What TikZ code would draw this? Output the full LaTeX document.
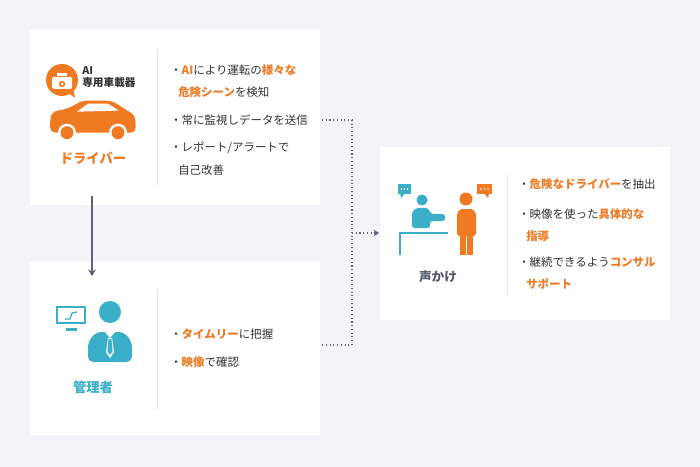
\documentclass[tikz,border=0pt]{standalone}
\usepackage{fontspec}
\newfontfamily\jp{Noto Sans CJK JP}
\usetikzlibrary{arrows.meta}
\definecolor{bg}{HTML}{F3F4F7}
\definecolor{org}{HTML}{F07A22}
\definecolor{teal}{HTML}{3BAFC8}
\definecolor{txt}{HTML}{333333}
\definecolor{gtxt}{HTML}{555A6E}
\definecolor{conn}{HTML}{5F6378}
\definecolor{divc}{HTML}{E4E5EA}
\tikzset{
 card/.style={fill=white,draw=none},
 divl/.style={draw=divc,line width=0.6pt},
 bul/.style={anchor=west,font=\jp\fontsize{8.6}{11}\selectfont,text=txt,inner sep=0},
 ttl/.style={font=\jp\bfseries\fontsize{10}{12}\selectfont},
 dotc/.style={draw=conn,line width=0.8pt,dotted},
}
\newcommand{\og}[1]{\textcolor{org}{\bfseries #1}}
\begin{document}
\begin{tikzpicture}[x=0.75pt,y=-0.75pt]
\fill[bg] (0,0) rectangle (700,467);
\useasboundingbox (0,0) rectangle (700,467);
% cards
\fill[card] (30,30) rectangle (320,205);
\fill[card] (30,262) rectangle (320,435);
\fill[card] (380,147) rectangle (670,320);
\draw[divl] (157,50) -- (157,185);
\draw[divl] (157,290) -- (157,410);
\draw[divl] (507,175) -- (507,295);
% driver icon
\fill[org] (62,80) circle (16);
\fill[org] (67,92) -- (75,98) -- (73,88) -- cycle;
\fill[white,rounded corners=1pt] (52,77) rectangle (72,89);
\fill[white] (57,73) rectangle (67,76);
\fill[org] (62,84) circle (3.2);
\fill[white] (62,84) circle (1.5);
\node[anchor=west,font=\jp\bfseries\fontsize{8}{9}\selectfont,text=txt,align=left,inner sep=0] at (82,77) {AI\\専用車載器};
\begin{scope}[yshift=-5pt]
\fill[org,rounded corners=4pt] (50,114) -- (52,105) -- (68,102) -- (82,94) -- (112,94) -- (127,104) -- (135,108) -- (136,126) -- (50,126) -- cycle;
\fill[white] (88,97) -- (108,97) -- (119,104) -- (77,105) -- cycle;
\fill[white] (67,126) circle (9); \fill[org] (67,126) circle (6.5);
\fill[white] (118,126) circle (9); \fill[org] (118,126) circle (6.5);
\end{scope}
\node[ttl,text=org] (drv) at (93,158) {ドライバー};
\node[bul] at (170,70) {・\og{AI}により運転の\og{様々な}};
\node[bul] at (178,92) {\og{危険シーン}を検知};
\node[bul] at (170,120) {・常に監視しデータを送信};
\node[bul] at (170,148) {・レポート/アラートで};
\node[bul] at (178,170) {自己改善};
% manager icon
\draw[teal,line width=1.6pt] (57,307) rectangle (85,323);
\draw[teal,line width=1pt] (65,319) -- (70,319) -- (72,313) -- (77,312);
\fill[teal] (66,328) rectangle (77,331);
\fill[teal] (110,312) circle (11);
\fill[teal,rounded corners=4pt] (88,362) -- (88,342) -- (96,332) -- (124,332) -- (132,342) -- (132,362) -- cycle;
\fill[white] (105,332) -- (110,338) -- (115,332) -- cycle;
\fill[white] (108,338) -- (106,352) -- (110,358) -- (114,352) -- (112,338) -- cycle;
\fill[teal] (108.6,339) -- (107.4,351) -- (110,355) -- (112.6,351) -- (111.4,339) -- cycle;
\node[ttl,text=teal] (mgr) at (93,387) {管理者};
\node[bul] at (170,334) {・\og{タイムリー}に把握};
\node[bul] at (170,362) {・\og{映像}で確認};
% voice icon
\fill[teal] (398,184) rectangle (411,194); \fill[teal] (400,193) -- (401,198) -- (405,193) -- cycle;
\foreach \i in {401.5,404.5,407.5} \fill[white] (\i,189) circle (0.8);
\fill[org] (477,184) rectangle (492,194); \fill[org] (484,193) -- (488,198) -- (489,193) -- cycle;
\foreach \i in {481,484.5,488} \fill[white] (\i,189) circle (0.8);
\fill[teal] (422,200) circle (5.5);
\fill[teal,rounded corners=2pt] (412,228) -- (412,212) -- (416,208) -- (428,208) -- (431,214) -- (445,214) -- (445,221) -- (430,221) -- (430,228) -- cycle;
\draw[teal,line width=1.6pt] (400,255) -- (400,233) -- (448,233);
\fill[org] (466,199) circle (6.5);
\fill[org,rounded corners=2pt] (457,236) -- (457,213) -- (460,209) -- (473,209) -- (476,213) -- (476,236) -- cycle;
\fill[org] (460,230) rectangle (466,255);
\fill[org] (467,230) rectangle (473,255);
\node[ttl,text=gtxt,font=\jp\bfseries\fontsize{9.5}{11}\selectfont] (voice) at (438,277) {声かけ};
\node[bul] at (518,184) {・\og{危険なドライバー}を抽出};
\node[bul] at (518,214) {・映像を使った\og{具体的な}};
\node[bul] at (526,236) {\og{指導}};
\node[bul] at (518,262) {・継続できるよう\og{コンサル}};
\node[bul] at (526,284) {\og{サポート}};
% connectors
\coordinate (a1) at (92,196); \coordinate (a2) at (92,276);
\draw[conn,line width=1.6pt,-{Stealth[length=5pt,width=6pt]}] (a1) -- (a2);
\coordinate (d1) at (322,120); \coordinate (d2) at (322,345);
\coordinate (j1) at (352,120); \coordinate (j2) at (352,345); \coordinate (jm) at (352,233);
\coordinate (r1) at (379,233);
\draw[dotc] (d1) -- (j1) -- (j2) -- (d2);
\draw[dotc,-{Stealth[length=4pt,width=5pt]}] (jm) -- (r1);
\end{tikzpicture}
\end{document}
